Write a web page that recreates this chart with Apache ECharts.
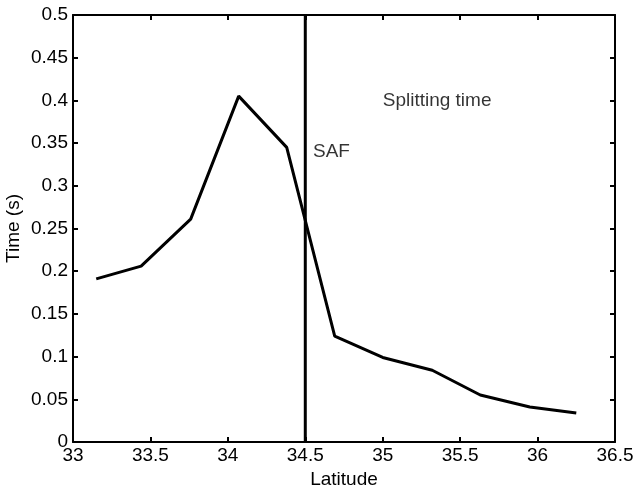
<!DOCTYPE html>
<html>
<head>
<meta charset="utf-8">
<script src="https://cdn.jsdelivr.net/npm/echarts@6/dist/echarts.min.js"></script>
<style>
  html, body { margin: 0; padding: 0; background: #fff; }
  #chart { width: 637px; height: 488px; }
</style>
</head>
<body>
<div id="chart"></div>
<script>
// latitude vs splitting time
var latitude = [33.15, 33.44, 33.76, 34.07, 34.38, 34.69, 35.0, 35.32, 35.63, 35.95, 36.25];
var splitTime = [0.191, 0.206, 0.261, 0.405, 0.345, 0.124, 0.099, 0.084, 0.055, 0.041, 0.034];
var safLatitude = 34.5;
var safLine = [[safLatitude, 0], [safLatitude, 0.5]];
var notes = [
    { text: 'SAF', at: [34.55, 0.34] },
    { text: 'Splitting time', at: [35.0, 0.399] }
];

var font = 'Liberation Sans, Arial, sans-serif';
var fontSize = 19;

var myChart = echarts.init(document.getElementById('chart'));

function axisX(pos, showLabel, name) {
    return {
        type: 'value',
        position: pos,
        min: 33,
        max: 36.5,
        interval: 0.5,
        name: name,
        nameLocation: 'middle',
        nameGap: 28,
        nameMoveOverlap: false,
        nameTextStyle: { color: '#000', fontSize: fontSize, fontFamily: font },
        axisLine: { show: true, onZero: false, lineStyle: { color: '#000', width: 2 } },
        axisTick: { show: true, inside: true, length: 5, lineStyle: { color: '#000', width: 2 } },
        axisLabel: { show: showLabel, color: '#000', fontSize: fontSize, fontFamily: font, margin: 4 },
        splitLine: { show: false }
    };
}

function axisY(pos, showLabel, name) {
    return {
        type: 'value',
        position: pos,
        min: 0,
        max: 0.5,
        interval: 0.05,
        name: name,
        nameLocation: 'middle',
        nameGap: 50,
        nameMoveOverlap: false,
        nameTextStyle: { color: '#000', fontSize: fontSize, fontFamily: font },
        axisLine: { show: true, onZero: false, lineStyle: { color: '#000', width: 2 } },
        axisTick: { show: true, inside: true, length: 5, lineStyle: { color: '#000', width: 2 } },
        axisLabel: { show: showLabel, color: '#000', fontSize: fontSize, fontFamily: font, margin: 5 },
        splitLine: { show: false }
    };
}

var option = {
    backgroundColor: '#fff',
    animation: false,
    grid: { left: 73, right: 22, top: 15, bottom: 46, containLabel: false, outerBoundsMode: 'none' },
    xAxis: [axisX('bottom', true, 'Latitude'), axisX('top', false, '')],
    yAxis: [axisY('left', true, 'Time (s)'), axisY('right', false, '')],
    series: [
        {
            name: 'Splitting time',
            type: 'line',
            data: latitude.map(function (x, i) { return [x, splitTime[i]]; }),
            showSymbol: false,
            symbol: 'none',
            lineStyle: { color: '#000', width: 3 }
        },
        {
            name: 'SAF',
            type: 'line',
            data: safLine,
            showSymbol: false,
            symbol: 'none',
            lineStyle: { color: '#000', width: 3 }
        },
        {
            type: 'scatter',
            symbolSize: 0,
            data: notes.map(function (n) { return { value: n.at, name: n.text }; }),
            label: {
                show: true,
                position: 'right',
                distance: 0,
                formatter: '{b}',
                color: '#000',
                fontSize: fontSize,
                fontFamily: font
            }
        }
    ]
};

myChart.setOption(option);
</script>
</body>
</html>
